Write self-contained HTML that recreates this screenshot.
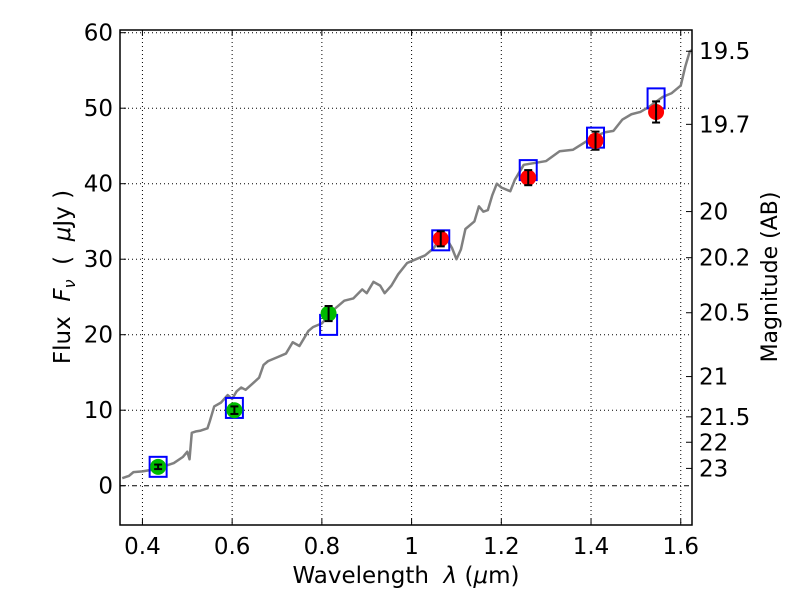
<!DOCTYPE html>
<html><head><meta charset="utf-8"><style>
body{margin:0;background:#fff;}
svg{font-family:"DejaVu Sans","Liberation Sans",sans-serif;}
</style></head><body>
<svg id="chart" width="800" height="600" viewBox="0 0 800 600">
<g id="grid"></g>
<g id="spec"></g>
<g id="marks"></g>
<rect x="120" y="30" width="572" height="495" fill="none" stroke="#000" stroke-width="1.5"/>
<g id="ticks"></g>
<text x="406" y="583" font-size="23" text-anchor="middle" xml:space="preserve">Wavelength  <tspan font-style="italic">λ</tspan> (<tspan font-style="italic">μ</tspan>m)</text>
<text transform="translate(70,277) rotate(-90)" font-size="23" text-anchor="middle" xml:space="preserve">Flux  <tspan font-style="italic">F</tspan><tspan font-style="italic" font-size="16" dy="5">ν</tspan><tspan dy="-5">  (  </tspan><tspan font-style="italic">μ</tspan>Jy )</text>
<text transform="translate(777,277) rotate(-90)" font-size="22" text-anchor="middle">Magnitude (AB)</text>
</svg>
<script>
const xTicks=[0.4,0.6,0.8,1,1.2,1.4,1.6];
const xTickLabels=["0.4","0.6","0.8","1","1.2","1.4","1.6"];
const yTicks=[0,10,20,30,40,50,60];
const magTicks=[19.5,19.7,20,20.2,20.5,21,21.5,22,23];
const magLabels=["19.5","19.7","20","20.2","20.5","21","21.5","22","23"];
const specWave=[0.355,0.37,0.38,0.4,0.43,0.45,0.47,0.49,0.5,0.505,0.51,0.52,0.53,0.545,0.55,0.56,0.575,0.59,0.6,0.61,0.62,0.63,0.645,0.66,0.67,0.68,0.7,0.72,0.735,0.75,0.77,0.78,0.8,0.815,0.83,0.85,0.87,0.89,0.9,0.915,0.93,0.94,0.955,0.97,0.99,1.01,1.03,1.05,1.07,1.08,1.09,1.1,1.11,1.12,1.14,1.15,1.16,1.17,1.18,1.19,1.2,1.22,1.23,1.25,1.27,1.3,1.33,1.36,1.4,1.43,1.45,1.47,1.49,1.51,1.53,1.56,1.58,1.6,1.61,1.62,1.625];
const specFlux=[1,1.3,1.8,1.9,2.2,2.6,3,3.8,4.5,3.5,7,7.2,7.3,7.6,8.5,10.5,11,12,11.5,12.5,13,12.7,13.5,14.3,16,16.5,17,17.5,19,18.5,20.5,21,21.5,22.5,23.5,24.5,24.8,26,25.5,27,26.5,25.5,26.5,28,29.5,30,30.5,31.5,33.5,32.5,31.5,30,31.3,34,35,37,36.3,36.5,38.5,40,39.5,39,40.5,42.5,42.7,43,44.3,44.5,46,46.8,47,48.5,49.2,49.5,50.2,51.5,52,53,55.5,57.5,57.7];
const photWave=[0.435,0.605,0.815,1.065,1.26,1.41,1.545];
const photFlux=[2.5,10.0,22.8,32.7,40.8,45.7,49.5];
const photErr=[0.3,0.5,1.0,1.0,1.0,1.2,1.4];
const modelFlux=[2.5,10.3,21.3,32.5,41.8,46.1,51.3];
const photColor=["#00bb00","#00bb00","#00bb00","red","red","red","red"];

const X=v=>120+(v-0.35)*448.6;
const Y=v=>485.7-v*7.55;
const NS="http://www.w3.org/2000/svg";
function mk(tag,parent,attrs){const e=document.createElementNS(NS,tag);for(const k in attrs)e.setAttribute(k,attrs[k]);parent.appendChild(e);return e;}
const grid=document.getElementById('grid'),ticks=document.getElementById('ticks'),spec=document.getElementById('spec'),marks=document.getElementById('marks');
xTicks.forEach((t,i)=>{
 const g=mk('line',grid,{x1:X(t),x2:X(t),y1:30,y2:525,stroke:'#000','stroke-width':1,'stroke-dasharray':'1,3'});
 
 
 mk('line',ticks,{x1:X(t),x2:X(t),y1:525,y2:519,stroke:'#000'});
 mk('line',ticks,{x1:X(t),x2:X(t),y1:30,y2:36,stroke:'#000'});
 const l=mk('text',ticks,{x:X(t),y:554,'font-size':23,'text-anchor':'middle'});
 l.textContent=xTickLabels[i];
 
 
});
yTicks.forEach(t=>{
 const g=mk('line',grid,{x1:120,x2:692,y1:Y(t),y2:Y(t),stroke:'#000','stroke-width':1,'stroke-dasharray':t===0?'5,3,1,3':'1,3'});
 
 
 mk('line',ticks,{x1:120,x2:126,y1:Y(t),y2:Y(t),stroke:'#000'});
 const l=mk('text',ticks,{x:113,y:Y(t)+8,'font-size':23,'text-anchor':'end'});
 l.textContent=String(t);
 
 
});
magTicks.forEach((m,i)=>{
 const f=Math.pow(10,(23.9-m)/2.5);
 mk('line',ticks,{x1:686,x2:692,y1:Y(f),y2:Y(f),stroke:'#000'});
 const l=mk('text',ticks,{x:699,y:Y(f)+8,'font-size':23});
 l.textContent=magLabels[i];
 
 
});
const p=mk('polyline',spec,{points:specWave.map((w,i)=>X(w)+','+Y(specFlux[i])).join(' '),fill:'none',stroke:'#808080','stroke-width':2.5,'stroke-linejoin':'round'});


photWave.forEach((w,i)=>{
 const s=mk('rect',marks,{x:X(w)-8.5,y:Y(modelFlux[i])-10,width:17,height:20,fill:'none',stroke:'#0000ff','stroke-width':2});
 
 
});
photWave.forEach((w,i)=>{
 const c=mk('circle',marks,{cx:X(w),cy:Y(photFlux[i]),r:8,fill:photColor[i]});
 
 
 const y1=Y(photFlux[i]-photErr[i]),y2=Y(photFlux[i]+photErr[i]);
 mk('line',marks,{x1:X(w),x2:X(w),y1:y1,y2:y2,stroke:'#000','stroke-width':2});
 mk('line',marks,{x1:X(w)-4,x2:X(w)+4,y1:y1,y2:y1,stroke:'#000','stroke-width':2});
 mk('line',marks,{x1:X(w)-4,x2:X(w)+4,y1:y2,y2:y2,stroke:'#000','stroke-width':2});
});
</script>
</body></html>
